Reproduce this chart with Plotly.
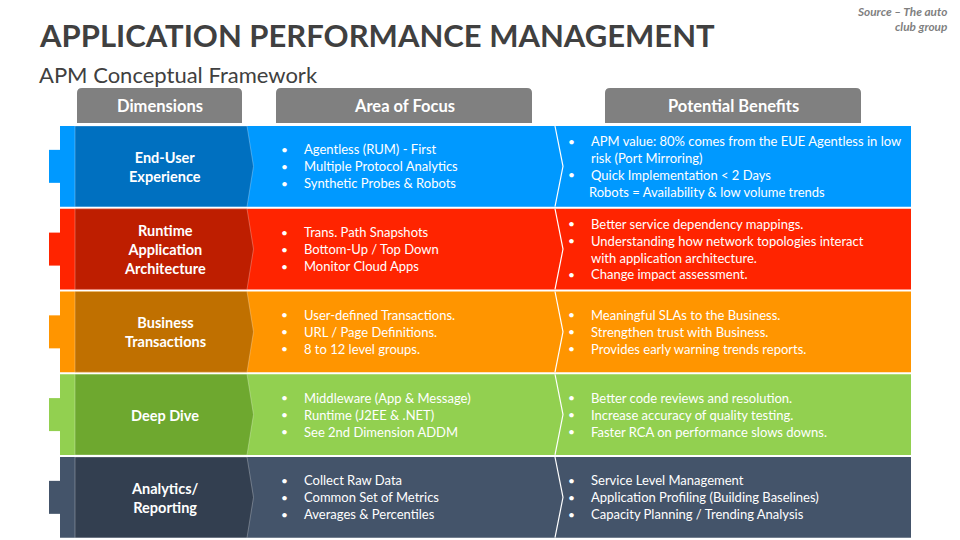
import plotly.graph_objects as go

# ---------------- data ----------------
title = "APPLICATION PERFORMANCE MANAGEMENT"
subtitle = "APM Conceptual Framework"
source_lines = ["Source – The auto", "club group"]
headers = ["Dimensions", "Area of Focus", "Potential Benefits"]

dimensions = [
    ["End-User", "Experience"],
    ["Runtime", "Application", "Architecture"],
    ["Business", "Transactions"],
    ["Deep Dive"],
    ["Analytics/", "Reporting"],
]

focus = [
    ["Agentless (RUM) - First", "Multiple Protocol Analytics", "Synthetic Probes & Robots"],
    ["Trans. Path Snapshots", "Bottom-Up / Top Down", "Monitor Cloud Apps"],
    ["User-defined Transactions.", "URL / Page Definitions.", "8 to 12 level groups."],
    ["Middleware (App & Message)", "Runtime (J2EE & .NET)", "See 2nd Dimension ADDM"],
    ["Collect Raw Data", "Common Set of Metrics", "Averages & Percentiles"],
]

# (text, has_bullet)
benefits = [
    [("APM value: 80% comes from the EUE Agentless in low", True), ("risk (Port Mirroring)", False),
     ("Quick Implementation < 2 Days", True), ("Robots = Availability & low volume trends", None)],
    [("Better service dependency mappings.", True), ("Understanding how network topologies interact", True),
     ("with application architecture.", False), ("Change impact assessment.", True)],
    [("Meaningful SLAs to the Business.", True), ("Strengthen trust with Business.", True),
     ("Provides early warning trends reports.", True)],
    [("Better code reviews and resolution.", True), ("Increase accuracy of quality testing.", True),
     ("Faster RCA on performance slows downs.", True)],
    [("Service Level Management", True), ("Application Profiling (Building Baselines)", True),
     ("Capacity Planning / Trending Analysis", True)],
]

# ---------------- styles ----------------
light_colors = ["#0099FF", "#FF2400", "#FF9500", "#92D050", "#44546A"]
dark_colors = ["#0070C0", "#BE1E00", "#C07000", "#6EA82F", "#333F50"]
FONT = "Lato"

fig = go.Figure()
shapes = []
annots = []

# layout geometry
row_top0 = 126.0
row_pitch = 82.75
row_h = 80.7
x_left, x_right = 60, 911
x_dark = 75
chev_x, chev_tip = 247, 253.5
line_x, line_tip = 555, 563
line_sp = 16.9

for i in range(len(dimensions)):
    top = row_top0 + i * row_pitch
    bot = top + row_h
    mid = (top + bot) / 2
    shapes.append(dict(type="rect", x0=x_left, x1=x_right, y0=top, y1=bot,
                       fillcolor=light_colors[i], line=dict(width=0), layer="below"))
    shapes.append(dict(type="rect", x0=49, x1=x_left + 0.5, y0=mid - 16.5, y1=mid + 16.5,
                       fillcolor=light_colors[i], line=dict(width=0), layer="below"))
    path = (f"M {x_dark},{top} L {chev_x},{top} L {chev_tip},{mid} "
            f"L {chev_x},{bot} L {x_dark},{bot} Z")
    shapes.append(dict(type="path", path=path, fillcolor=dark_colors[i],
                       line=dict(color="rgba(255,255,255,0.35)", width=0.8), layer="below"))
    path2 = f"M {line_x},{top} L {line_tip},{mid} L {line_x},{bot}"
    shapes.append(dict(type="path", path=path2, line=dict(color="white", width=1.2)))

    annots.append(dict(x=165, y=mid + 0.5, text="<br>".join(dimensions[i]), showarrow=False,
                       xanchor="center", yanchor="middle",
                       font=dict(family=FONT, size=14.5, color="white", weight="bold")))

    n = len(focus[i])
    for j, t in enumerate(focus[i]):
        y = mid + (j - (n - 1) / 2) * line_sp
        annots.append(dict(x=284, y=y, text="•", showarrow=False, xanchor="center",
                           yanchor="middle", font=dict(family=FONT, size=12, color="white")))
        annots.append(dict(x=302, y=y, text=t, showarrow=False, xanchor="left",
                           yanchor="middle", font=dict(family=FONT, size=13, color="white")))

    n = len(benefits[i])
    for j, (t, b) in enumerate(benefits[i]):
        y = mid + (j - (n - 1) / 2) * line_sp
        if b:
            annots.append(dict(x=571, y=y, text="•", showarrow=False, xanchor="center",
                               yanchor="middle", font=dict(family=FONT, size=12, color="white")))
        tx = 587 if b is None else 589
        annots.append(dict(x=tx, y=y, text=t, showarrow=False, xanchor="left",
                           yanchor="middle", font=dict(family=FONT, size=13, color="white")))

# header tabs
tab_x = [(77, 242), (276, 532), (605, 861)]
for (x0, x1), h in zip(tab_x, headers):
    r = 5
    y0, y1 = 88, 123
    path = (f"M {x0},{y1} L {x0},{y0 + r} Q {x0},{y0} {x0 + r},{y0} L {x1 - r},{y0} "
            f"Q {x1},{y0} {x1},{y0 + r} L {x1},{y1} Z")
    shapes.append(dict(type="path", path=path, fillcolor="#808080", line=dict(width=0)))
    annots.append(dict(x=(x0 + x1) / 2, y=106, text=h, showarrow=False, xanchor="center",
                       yanchor="middle", font=dict(family=FONT, size=16.5, color="white", weight="bold")))

# titles
annots.append(dict(x=37, y=35, text=title, showarrow=False, xanchor="left", yanchor="middle",
                   font=dict(family=FONT, size=31, color="#404040", weight="bold")))
annots.append(dict(x=37, y=74, text=subtitle, showarrow=False, xanchor="left", yanchor="middle",
                   font=dict(family=FONT, size=22, color="#404040")))
for k, s in enumerate(source_lines):
    annots.append(dict(x=949, y=11 + k * 15, text=f"<i>{s}</i>", showarrow=False, xanchor="right",
                       yanchor="middle", font=dict(family=FONT, size=11.8, color="#7F7F7F", weight="bold")))

fig.update_layout(
    width=960, height=540,
    margin=dict(l=0, r=0, t=0, b=0),
    paper_bgcolor="white", plot_bgcolor="white",
    xaxis=dict(range=[0, 960], visible=False, fixedrange=True),
    yaxis=dict(range=[540, 0], visible=False, fixedrange=True),
    shapes=shapes, annotations=annots, showlegend=False,
)
fig.write_html("out.html", config={"displayModeBar": False},
               post_script="document.body.style.margin='0';document.body.style.overflow='hidden';")
